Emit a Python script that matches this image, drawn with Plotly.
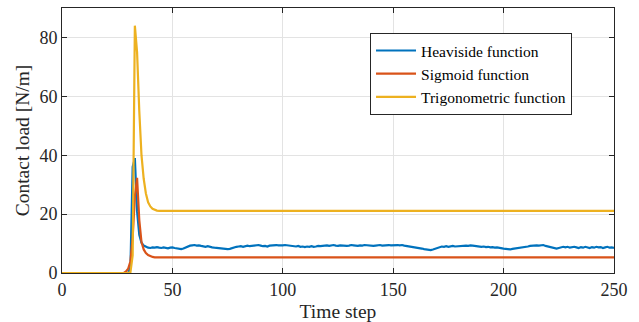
import plotly.graph_objects as go

steps = list(range(0, 251))

heaviside_early = [0.0] * 31 + [2.0, 36.0, 39.0, 21.0, 13.0, 10.3, 9.3, 8.8]  # steps 0..38
heaviside_plateau = [
    8.6, 8.5, 8.7, 8.6, 8.8, 8.6, 8.5, 8.7, 8.6, 8.4, 8.6, 8.7,  # 39-50
    8.5, 8.3, 8.2, 8.1, 8.3,  # 51-55
    8.7, 9.0, 9.3, 9.4, 9.5, 9.3, 9.4,  # 56-62
    9.2, 9.0, 8.9, 9.1, 8.8, 8.7, 8.6, 8.5,  # 63-70
    8.4, 8.2, 8.3, 8.0, 8.1, 8.2,  # 71-76
    8.5, 8.7, 8.9, 9.0, 9.1, 8.9, 9.2, 9.3, 9.1,  # 77-85
    9.2, 9.4, 9.3, 9.5, 9.3, 9.1, 9.2, 9.0, 9.3, 9.4, 9.3, 9.5, 9.4, 9.3,  # 86-99
    9.4, 9.5, 9.4, 9.2, 9.3, 9.1, 9.0, 9.2, 8.9,  # 100-108
    9.0, 8.8, 9.0, 8.9, 9.1, 8.9, 9.0, 9.2, 9.1,  # 109-117
    9.2, 9.3, 9.4, 9.2, 9.3, 9.5, 9.3, 9.2, 9.4, 9.3, 9.4, 9.2, 9.3, 9.5, 9.4, 9.3,
    9.2, 9.4, 9.3, 9.5, 9.4, 9.3, 9.4, 9.2, 9.3, 9.4, 9.5, 9.3, 9.4, 9.3, 9.5, 9.4, 9.5,  # 118-150
    9.6, 9.5, 9.4, 9.5, 9.3, 9.2, 9.0, 8.9, 8.8, 8.7,  # 151-160
    8.5, 8.4, 8.3, 8.1, 8.0, 7.9, 7.8, 8.0, 8.3, 8.6,  # 161-170
    8.8, 9.0, 8.9, 9.1, 8.9, 9.0, 9.2, 9.0, 9.1, 9.2,  # 171-180
    9.3, 9.4, 9.3, 9.2, 9.4, 9.3, 9.2, 9.0, 9.1, 8.9,  # 181-190
    9.0, 8.8, 8.9, 8.7, 8.8, 8.6, 8.7, 8.5, 8.4, 8.3,  # 191-200
    8.2, 8.1, 8.0, 8.2, 8.3, 8.5, 8.4, 8.6, 8.7, 8.8,  # 201-210
    9.0, 9.2, 9.3, 9.5, 9.4, 9.3, 9.4, 9.5, 9.2, 9.0,  # 211-220
    8.8, 8.5, 8.4, 8.3, 8.5, 8.8, 8.9, 8.7, 8.9, 8.6,  # 221-230
    8.8, 8.9, 8.7, 8.5, 8.8, 8.6, 8.9, 8.7, 8.5, 8.8,  # 231-240
    8.6, 8.9, 8.7, 8.8, 8.5, 8.7, 8.9, 8.6, 8.7, 8.5,  # 241-250
]
heaviside = heaviside_early + heaviside_plateau

sigmoid_early = [0.0] * 29 + [0.5, 1.5, 4.0, 12.0, 26.0, 32.3, 18.0, 10.5, 8.0, 6.8, 6.1, 5.7, 5.45, 5.3, 5.25]  # 0..43
sigmoid = sigmoid_early + [5.3] * (251 - len(sigmoid_early))

trig_early = [0.0] * 31 + [0.3, 6.0, 84.0, 75.0, 55.0, 40.0, 32.0, 27.0, 24.0, 22.6, 21.8, 21.4, 21.2]  # 0..43
trigonometric = trig_early + [21.1] * (251 - len(trig_early))

names = ["Heaviside function", "Sigmoid function", "Trigonometric function"]
colors = ["#0072BD", "#D95319", "#EDB120"]
series = [heaviside, sigmoid, trigonometric]

x_ticks = [0, 50, 100, 150, 200, 250]
y_ticks = [0, 20, 40, 60, 80]

SERIF = "Liberation Serif, Times New Roman, serif"

fig = go.Figure()
for name, c, s in zip(names, colors, series):
    fig.add_trace(go.Scatter(x=steps, y=s, mode="lines", name=name,
                             line=dict(color=c, width=2.2)))

axis_common = dict(
    showline=True, linecolor="#262626", linewidth=1, mirror="ticks",
    ticks="inside", ticklen=5, tickcolor="#262626", tickwidth=1,
    showgrid=True, gridcolor="#e3e3e3", gridwidth=1, zeroline=False,
    tickfont=dict(family=SERIF, size=18, color="#262626"),
    automargin=False,
)

fig.update_layout(
    width=639, height=322,
    margin=dict(l=62, r=25, t=8, b=49),
    paper_bgcolor="white", plot_bgcolor="white",
    font=dict(family=SERIF, color="#262626"),
    xaxis=dict(range=[0, 250], tickvals=x_ticks,
               title=dict(text="Time step", font=dict(size=19.5, family=SERIF, color="#262626"), standoff=8),
               **axis_common),
    yaxis=dict(range=[0, 90], tickvals=y_ticks,
               title=dict(text="Contact load [N/m]", font=dict(size=19.5, family=SERIF, color="#262626"), standoff=4),
               **axis_common),
    legend=dict(x=0.558, y=0.906, xanchor="left", yanchor="top",
                bgcolor="white", bordercolor="#262626", borderwidth=1,
                font=dict(family=SERIF, size=15.5, color="black"),
                itemwidth=40, tracegroupgap=0),
    showlegend=True,
)

fig.write_html("out.html")
